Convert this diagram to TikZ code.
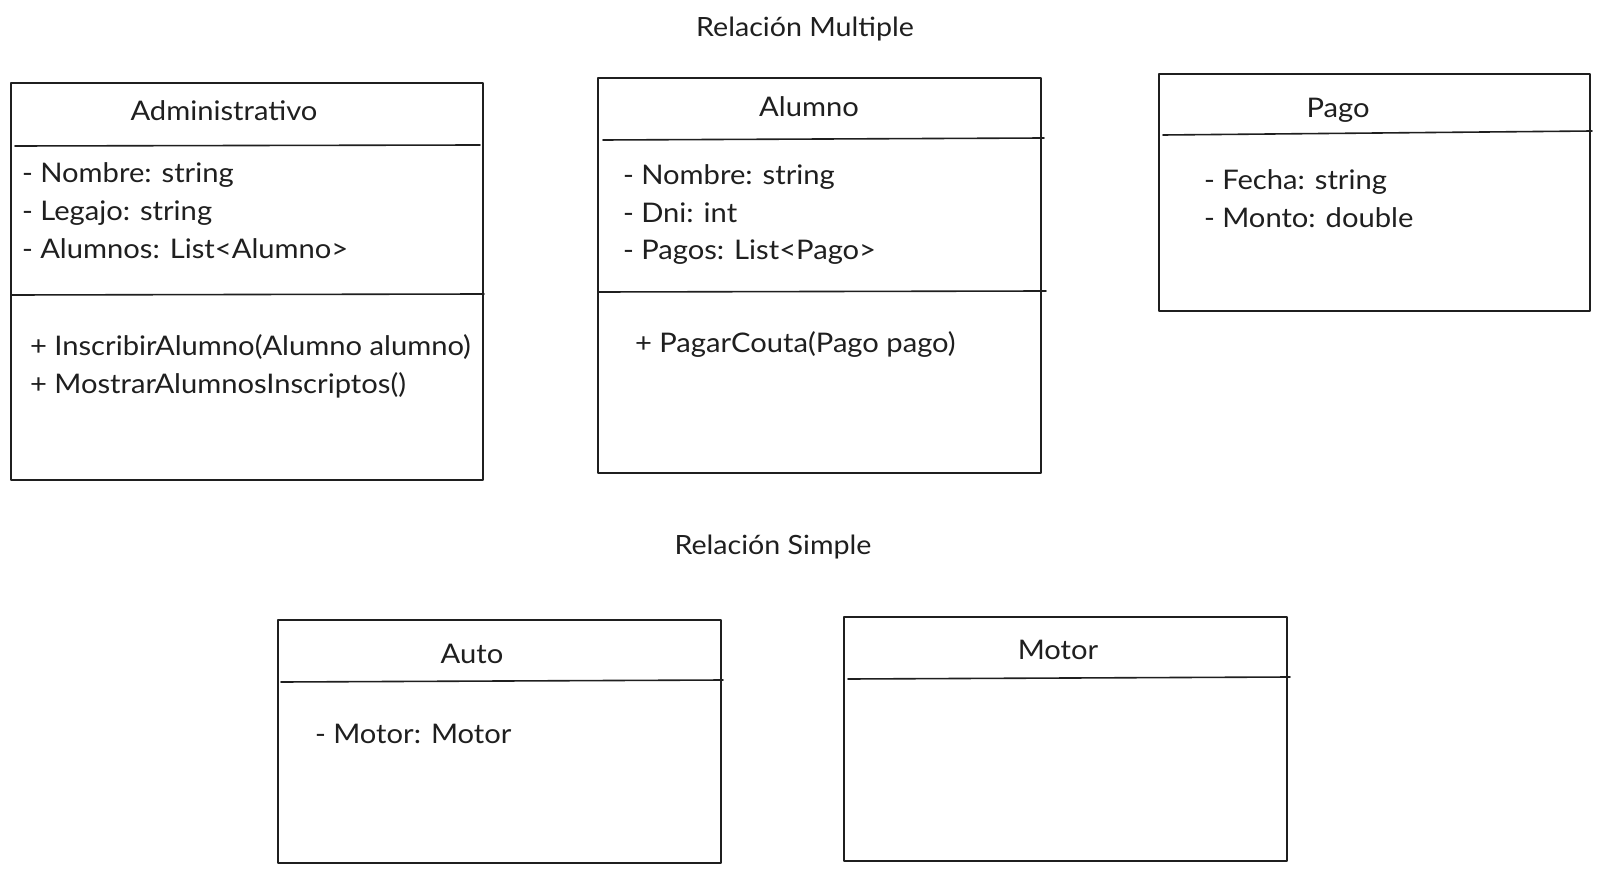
\documentclass[tikz,border=0pt]{standalone}
\usepackage{fontspec}
\setmainfont{Lato}[FakeStretch=1.08]
\begin{document}
\begin{tikzpicture}[x=1pt,y=-1pt,
  ink/.style={draw=black!88,line width=1.6pt,line cap=round,line join=round},
  txt/.style={inner sep=0pt,outer sep=0pt,text=black!88,font=\fontsize{27}{32}\selectfont},
  left/.style={txt,anchor=base west},
  ctr/.style={txt,anchor=base}]
\useasboundingbox (0,0) rectangle (1602,874);
\fill[white] (0,0) rectangle (1602,874);

% titles
\node[ctr,font=\fontsize{26.5}{32}\selectfont] (t1) at (805,37) {Relación Multiple};
\node[ctr,font=\fontsize{26.5}{32}\selectfont] (t2) at (773,554) {Relación Simple};

% Administrativo
\draw[ink] (11,83) rectangle (483,480);
\draw[ink] (15,146) -- (480,145);
\draw[ink] (11,295) -- (484,294);
\node[ctr] (admT) at (224,121) {Administrativo};
\node[left] (adm1) at (22,183) {- Nombre: string};
\node[left] (adm2) at (22,221) {- Legajo: string};
\node[left] (adm3) at (22,259) {- Alumnos: List<Alumno>};
\node[left] (adm4) at (30,355) {+ InscribirAlumno(Alumno alumno)};
\node[left] (adm5) at (30,393) {+ MostrarAlumnosInscriptos()};

% Alumno
\draw[ink] (598,78) rectangle (1041,473);
\draw[ink] (603,140) -- (1044,138);
\draw[ink] (598,292) -- (1046,291);
\node[ctr] (aluT) at (809,117) {Alumno};
\node[left] (alu1) at (623,185) {- Nombre: string};
\node[left] (alu2) at (623,223) {- Dni: int};
\node[left] (alu3) at (623,260) {- Pagos: List<Pago>};
\node[left] (alu4) at (635,352) {+ PagarCouta(Pago pago)};

% Pago
\draw[ink] (1159,74) rectangle (1590,311);
\draw[ink] (1163,135) -- (1592,131);
\node[ctr] (pagT) at (1338,118) {Pago};
\node[left] (pag1) at (1204,190) {- Fecha: string};
\node[left] (pag2) at (1204,228) {- Monto: double};

% Auto
\draw[ink] (278,620) rectangle (721,863);
\draw[ink] (281,682) -- (723,680);
\node[ctr] (autT) at (472,663) {Auto};
\node[left] (aut1) at (315,743) {- Motor: Motor};

% Motor
\draw[ink] (844,617) rectangle (1287,861);
\draw[ink] (848,679) -- (1290,677);
\node[ctr] (motT) at (1058,659) {Motor};
\end{tikzpicture}
\end{document}
